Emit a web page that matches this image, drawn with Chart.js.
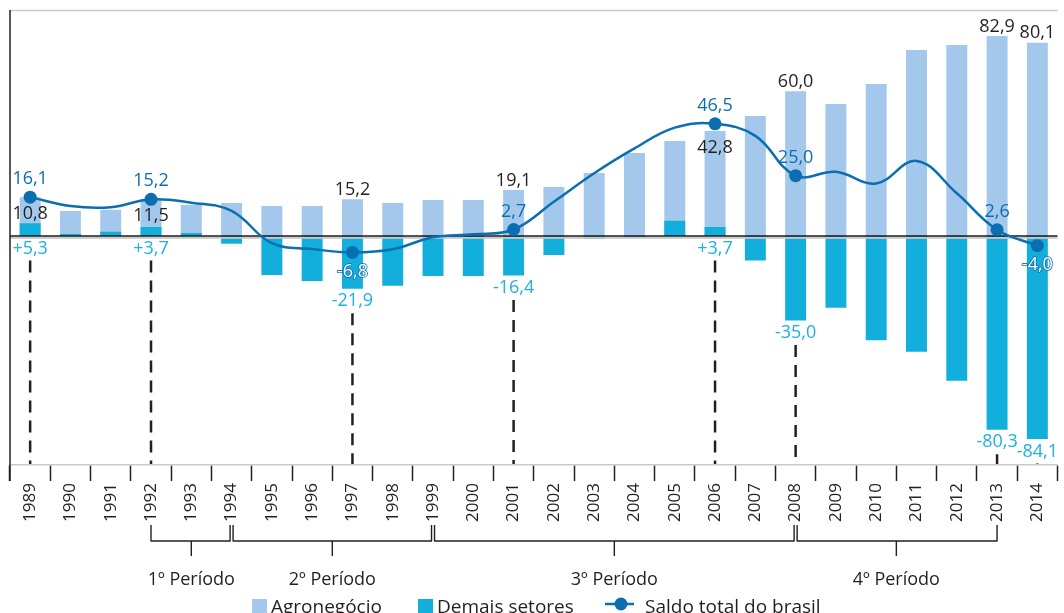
<!DOCTYPE html>
<html><head><meta charset="utf-8">
<script src="https://cdn.jsdelivr.net/npm/chart.js@4.4.1/dist/chart.umd.min.js"></script>
<style>html,body{margin:0;padding:0;background:#fff;overflow:hidden}</style>
</head><body>
<canvas id="c" width="1064" height="613"></canvas>
<script>
const years = ['1989','1990','1991','1992','1993','1994','1995','1996','1997','1998','1999','2000','2001','2002','2003','2004','2005','2006','2007','2008','2009','2010','2011','2012','2013','2014'];
const agro = [16.1,10.4,10.9,15.2,12.8,13.7,12.4,12.4,15.2,13.7,14.9,14.9,19.1,20.3,26.1,34.4,39.4,43.5,49.7,60.0,54.7,63.0,77.1,79.2,82.9,80.1];
const demais = [5.3,0.8,1.8,3.7,1.2,-3.2,-16.2,-18.6,-21.9,-20.6,-16.6,-16.6,-16.4,-7.9,-1.2,-0.5,6.3,3.7,-10.2,-35.0,-29.7,-43.2,-48.0,-60.0,-80.3,-84.1];
const saldo = [16.1,12.4,11.9,15.2,13.8,10.4,-3.0,-5.4,-6.8,-5.5,-0.5,0.7,2.7,14.2,26.0,36.3,44.9,46.5,41.5,25.0,26.6,21.8,31.1,17.7,2.6,-4.0];
const saldoMarked = ['1989','1992','1997','2001','2006','2008','2013','2014'];
const agroLabels = [['1989','10,8','inside'],['1992','11,5','inside'],['1997','15,2','above'],['2001','19,1','above'],['2006','42,8','inside'],['2008','60,0','above'],['2013','82,9','above'],['2014','80,1','above']];
const demaisLabels = [['1989','+5,3'],['1992','+3,7'],['1997','-21,9'],['2001','-16,4'],['2006','+3,7'],['2008','-35,0'],['2013','-80,3'],['2014','-84,1']];
const saldoLabels = [['1989','16,1','above'],['1992','15,2','above'],['1997','-6,8','below'],['2001','2,7','above'],['2006','46,5','above'],['2008','25,0','above'],['2013','2,6','above'],['2014','-4,0','below']];
const periods = [['1º Período','1992','1994'],['2º Período','1994','1999'],['3º Período','1999','2008'],['4º Período','2008','2013']];

const C_AGRO = '#a3c8eb', C_DEM = '#12afdd', C_LINE = '#0a6eb0', C_TXT = '#231f20', C_DEMTXT = '#1db0e6', C_GREY = '#c9c9c9';
const FONT = '"Open Sans", "Noto Sans", sans-serif';

const deco = {
  id: 'deco',
  afterDatasetDraw(chart, args) {
    if (args.index !== 1) return;
    const {ctx, chartArea: a, scales: {y}} = chart;
    const z = y.getPixelForValue(0);
    ctx.save();
    ctx.fillStyle = C_GREY;
    ctx.fillRect(a.left, z + 0.8, a.right - a.left, 2);
    ctx.strokeStyle = '#1a1a1a'; ctx.lineWidth = 1.4;
    ctx.beginPath(); ctx.moveTo(a.left, z); ctx.lineTo(a.right, z); ctx.stroke();
    ctx.restore();
  },
  afterDraw(chart) {
    const {ctx, chartArea: a, scales: {x, y}} = chart;
    ctx.save();
    ctx.strokeStyle = C_GREY; ctx.lineWidth = 1.5;
    ctx.beginPath(); ctx.moveTo(a.left, a.top + 0.5); ctx.lineTo(a.right, a.top + 0.5); ctx.stroke();
    ctx.strokeStyle = C_TXT; ctx.lineWidth = 1.5;
    ctx.beginPath(); ctx.moveTo(a.left, a.top); ctx.lineTo(a.left, a.bottom + 16); ctx.stroke();

    const xi = (yr) => x.getPixelForValue(years.indexOf(yr));
    ctx.textAlign = 'center'; ctx.textBaseline = 'middle';
    ctx.font = '18px ' + FONT;

    demaisLabels.forEach(([yr, t]) => {
      const i = years.indexOf(yr);
      const px = xi(yr);
      const ly = y.getPixelForValue(Math.min(0, demais[i])) + 12.5;
      ctx.strokeStyle = C_TXT; ctx.lineWidth = 2.5; ctx.setLineDash([12, 8]);
      ctx.beginPath(); ctx.moveTo(px, ly + 12); ctx.lineTo(px, a.bottom - 1); ctx.stroke();
      ctx.setLineDash([]);
      ctx.fillStyle = C_DEMTXT; ctx.fillText(t, px, ly);
    });
    agroLabels.forEach(([yr, t, pos]) => {
      const i = years.indexOf(yr);
      const top = y.getPixelForValue(agro[i]);
      const ly = pos === 'inside' ? top + 17 : top - 9.5;
      ctx.fillStyle = C_TXT; ctx.fillText(t, xi(yr), ly);
    });
    saldoLabels.forEach(([yr, t, pos]) => {
      const i = years.indexOf(yr);
      const p = y.getPixelForValue(saldo[i]);
      if (pos === 'below') {
        const ly = p + 19;
        ctx.strokeStyle = C_LINE; ctx.lineWidth = 1.6; ctx.lineJoin = 'round';
        ctx.strokeText(t, xi(yr), ly);
        ctx.fillStyle = '#ffffff'; ctx.fillText(t, xi(yr), ly);
      } else {
        ctx.fillStyle = C_LINE; ctx.fillText(t, xi(yr), p - 18);
      }
    });

    const bTop = a.bottom + 60, bMid = a.bottom + 76, bTick = a.bottom + 91;
    ctx.strokeStyle = C_TXT; ctx.lineWidth = 1.4;
    periods.forEach(([t, s, e], k) => {
      const l = xi(s) + (k > 0 ? 1.5 : 0);
      const r = xi(e) - (k < periods.length - 1 ? 1.5 : 0);
      ctx.beginPath();
      ctx.moveTo(l, bTop); ctx.lineTo(l, bMid); ctx.lineTo(r, bMid); ctx.lineTo(r, bTop);
      const c = (xi(s) + xi(e)) / 2;
      ctx.moveTo(c, bMid); ctx.lineTo(c, bTick);
      ctx.stroke();
      ctx.font = '18px ' + FONT; ctx.fillStyle = C_TXT;
      ctx.fillText(t, c, a.bottom + 115);
    });

    const ds = chart.data.datasets;
    ctx.font = '19px ' + FONT; ctx.textAlign = 'left'; ctx.textBaseline = 'alphabetic';
    ctx.fillStyle = C_AGRO; ctx.fillRect(252, 599, 15, 15);
    ctx.fillStyle = C_TXT; ctx.fillText(ds[0].label, 271, 612.5);
    ctx.fillStyle = C_DEM; ctx.fillRect(418, 599, 15, 15);
    ctx.fillStyle = C_TXT; ctx.fillText(ds[1].label, 437, 612.5);
    ctx.strokeStyle = C_LINE; ctx.lineWidth = 2.5;
    ctx.beginPath(); ctx.moveTo(605, 604); ctx.lineTo(634, 604); ctx.stroke();
    ctx.fillStyle = C_LINE; ctx.beginPath(); ctx.arc(621, 604, 6.5, 0, Math.PI * 2); ctx.fill();
    ctx.fillStyle = C_TXT; ctx.fillText(ds[2].label, 645, 612.5);
    ctx.restore();
  }
};

new Chart(document.getElementById('c'), {
  data: {
    labels: years,
    datasets: [
      {type: 'bar', label: 'Agronegócio', data: agro, backgroundColor: C_AGRO, order: 2, barPercentage: 0.52, categoryPercentage: 1},
      {type: 'bar', label: 'Demais setores', data: demais, backgroundColor: C_DEM, order: 1, barPercentage: 0.52, categoryPercentage: 1},
      {type: 'line', label: 'Saldo total do brasil', data: saldo, borderColor: C_LINE, backgroundColor: C_LINE, borderWidth: 2.5, tension: 0.4, order: 0,
        pointRadius: (c) => saldoMarked.includes(years[c.dataIndex]) ? 6.5 : 0, pointBorderWidth: 0, pointBackgroundColor: C_LINE}
    ]
  },
  options: {
    responsive: false, animation: false, devicePixelRatio: 1,
    layout: {padding: {left: 10, top: 10, right: 0, bottom: 0}},
    plugins: {legend: {display: false}, tooltip: {enabled: false}},
    scales: {
      x: {
        stacked: true, offset: true,
        grid: {offset: true, drawOnChartArea: false, drawTicks: true, tickLength: 16, tickColor: C_TXT, tickWidth: 1.5},
        border: {display: true, color: C_GREY, width: 1.5},
        ticks: {autoSkip: false, maxRotation: 90, minRotation: 90, padding: 2, color: C_TXT, font: {family: FONT, size: 17}},
        afterFit(s) { s.height = 148; }
      },
      y: {display: false, stacked: false, min: -94.9, max: 93.66}
    }
  },
  plugins: [deco]
});
</script>
</body></html>
